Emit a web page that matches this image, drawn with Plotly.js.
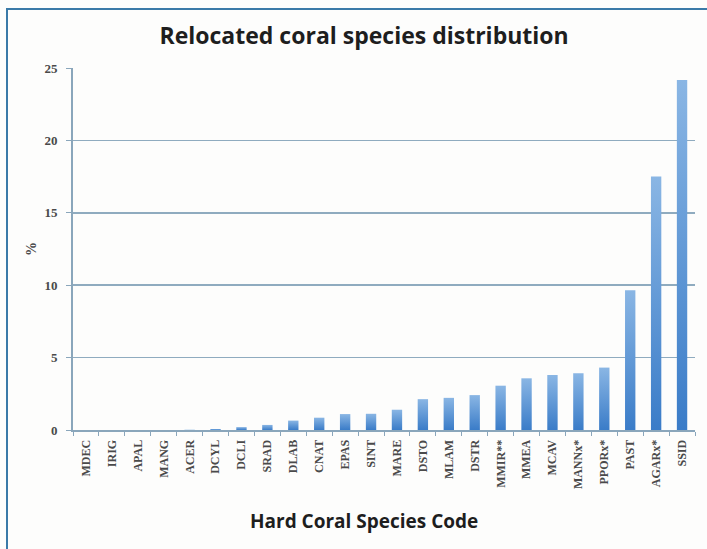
<!DOCTYPE html>
<html>
<head>
<meta charset="utf-8">
<script src="https://cdn.plot.ly/plotly-3.0.1.min.js"></script>
<style>
  html, body { margin: 0; padding: 0; background: #fdfdfc; }
  #wrap { position: relative; width: 707px; height: 549px; overflow: hidden; }
  #frame { position: absolute; left: 6px; top: 8px; width: 720px; height: 560px;
           border-left: 2px solid #3a7aa8; border-top: 2px solid #3a7aa8; pointer-events: none; z-index: 5; }
  #chart { position: absolute; left: 0; top: 0; width: 707px; height: 549px; }
</style>
</head>
<body>
<div id="wrap">
  <div id="chart"></div>
  <div id="frame"></div>
</div>
<script>
const species = ["MDEC", "IRIG", "APAL", "MANG", "ACER", "DCYL", "DCLI", "SRAD", "DLAB", "CNAT",
                 "EPAS", "SINT", "MARE", "DSTO", "MLAM", "DSTR", "MMIR**", "MMEA", "MCAV",
                 "MANNx*", "PPORx*", "PAST", "AGARx*", "SSID"];
const percent = [0, 0, 0, 0, 0.02, 0.07, 0.2, 0.35, 0.65, 0.85,
                 1.1, 1.12, 1.4, 2.13, 2.22, 2.41, 3.06, 3.57, 3.8,
                 3.92, 4.31, 9.65, 17.5, 24.17];
const yTicks = [0, 5, 10, 15, 20, 25];

const trace = {
  type: "bar",
  x: species,
  y: percent,
  marker: { color: "#5692d4", line: { width: 0 } },
  hoverinfo: "x+y"
};

const layout = {
  width: 707,
  height: 549,
  paper_bgcolor: "#fdfdfc",
  plot_bgcolor: "#fdfdfc",
  margin: { l: 73, r: 12, t: 68, b: 119 },
  bargap: 0.6,
  showlegend: false,
  title: {
    text: "<b>Relocated coral species distribution</b>",
    font: { family: "Open Sans", size: 23, color: "#1e1e1e" },
    x: 0.515, xanchor: "center",
    y: 0.935, yanchor: "middle"
  },
  xaxis: {
    type: "category",
    tickangle: -90,
    tickfont: { family: "Liberation Serif", size: 12, weight: "bold", color: "#4a4a4a" },
    ticks: "outside",
    tickson: "boundaries",
    ticklen: 4,
    tickcolor: "#8aa6bb",
    ticklabelstandoff: 3,
    showline: true,
    linecolor: "#8aa6bb",
    linewidth: 2,
    showgrid: false
  },
  yaxis: {
    range: [0, 25],
    tickvals: yTicks,
    ticktext: yTicks.map(String),
    tickfont: { family: "Liberation Serif", size: 13, weight: "bold", color: "#4a4a4a" },
    ticks: "outside",
    ticklen: 5,
    tickcolor: "#8aa6bb",
    ticklabelstandoff: 6,
    showline: true,
    linecolor: "#8aa6bb",
    linewidth: 2,
    showgrid: true,
    gridcolor: "#8fabbf",
    gridwidth: 1.5,
    zeroline: false,
    title: {
      text: "<b>%</b>",
      font: { family: "Liberation Serif", size: 14, color: "#4a4a4a" },
      standoff: 5
    }
  },
  annotations: [{
    text: "<b>Hard Coral Species Code</b>",
    font: { family: "Open Sans", size: 19, color: "#1e1e1e" },
    xref: "paper", yref: "paper",
    x: (364 - 73) / (707 - 73 - 12), xanchor: "center",
    y: -(521 - 430) / (430 - 68), yanchor: "middle",
    showarrow: false
  }]
};

Plotly.newPlot("chart", [trace], layout, { displayModeBar: false, staticPlot: true }).then(function (gd) {
  const svg = gd.querySelector("svg.main-svg");
  const ns = "http://www.w3.org/2000/svg";
  let defs = svg.querySelector("defs");
  if (!defs) { defs = document.createElementNS(ns, "defs"); svg.insertBefore(defs, svg.firstChild); }
  const grad = document.createElementNS(ns, "linearGradient");
  grad.setAttribute("id", "barGrad");
  grad.setAttribute("x1", "0"); grad.setAttribute("y1", "0");
  grad.setAttribute("x2", "0"); grad.setAttribute("y2", "1");
  [["0", "#8ab6e4"], ["1", "#3a7cc8"]].forEach(function (s) {
    const st = document.createElementNS(ns, "stop");
    st.setAttribute("offset", s[0]);
    st.setAttribute("stop-color", s[1]);
    grad.appendChild(st);
  });
  defs.appendChild(grad);
  gd.querySelectorAll(".barlayer .point path").forEach(function (p) {
    p.style.fill = "url(#barGrad)";
  });
});
</script>
</body>
</html>
